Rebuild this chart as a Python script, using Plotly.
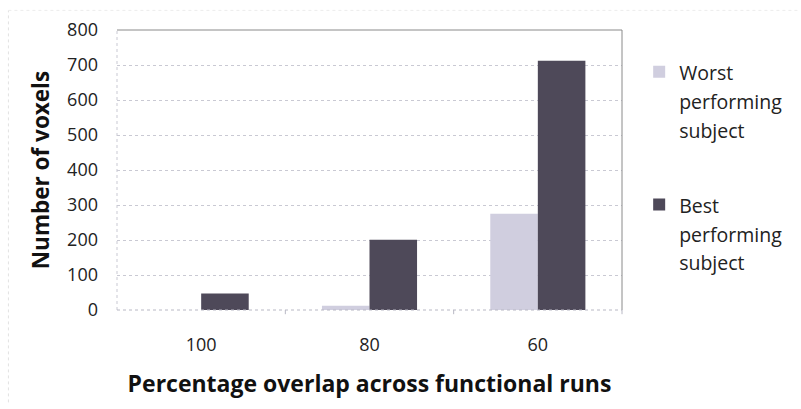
import plotly.graph_objects as go

categories = ["100", "80", "60"]
worst_values = [0, 12, 275]
best_values = [47, 201, 712]
series_names = ["Worst<br>performing<br>subject", "Best<br>performing<br>subject"]
y_ticks = [0, 100, 200, 300, 400, 500, 600, 700, 800]

FONT = "Open Sans"
LEG_SPAN = "<span style='font-size:19.5px'>{}</span>"

fig = go.Figure()
fig.add_trace(go.Bar(x=categories, y=worst_values,
                     name=LEG_SPAN.format(series_names[0]),
                     marker=dict(color="#d0cedf", line=dict(width=0)),
                     legendgroup="a"))
fig.add_trace(go.Bar(x=categories, y=best_values,
                     name=LEG_SPAN.format(series_names[1]),
                     marker=dict(color="#4e4959", line=dict(width=0)),
                     legendgroup="b"))

fig.update_layout(
    width=801, height=409,
    margin=dict(l=117, r=179, t=30, b=99),
    paper_bgcolor="white", plot_bgcolor="white",
    barmode="group", bargap=0.435, bargroupgap=0,
    font=dict(family=FONT, color="#222222"),
    showlegend=True,
    legend=dict(x=1.034, y=0.925, xanchor="left", yanchor="top",
                font=dict(size=22, color="#222222"),
                valign="top", traceorder="grouped", tracegroupgap=44,
                itemwidth=30, bgcolor="rgba(0,0,0,0)"),
    xaxis=dict(
        tickfont=dict(size=18, color="#222222"),
        ticks="", showgrid=False, showline=False, zeroline=False,
        title=dict(text="<b>Percentage overlap across functional runs</b>",
                   font=dict(size=23, color="#111111"), standoff=20),
        ticklabelstandoff=22,
    ),
    yaxis=dict(
        range=[0, 800], tickvals=y_ticks,
        tickfont=dict(size=18, color="#222222"),
        showgrid=True, gridcolor="#c9c9d3", griddash="dot", gridwidth=1,
        zeroline=False, showline=False, ticks="",
        title=dict(text="<b>Number of voxels</b>",
                   font=dict(size=22.5, color="#111111"), standoff=11),
        ticklabelstandoff=18,
    ),
)

# plot frame: top and right solid border, left and bottom dotted
fig.add_shape(type="line", xref="paper", yref="paper", x0=0, x1=1, y0=1, y1=1,
              line=dict(color="#8a8a8a", width=1))
fig.add_shape(type="line", xref="paper", yref="paper", x0=1, x1=1, y0=0, y1=1,
              line=dict(color="#8a8a8a", width=1))
fig.add_shape(type="line", xref="paper", yref="paper", x0=0, x1=0, y0=0, y1=1,
              line=dict(color="#c9c9d3", width=1, dash="dot"))
fig.add_shape(type="line", xref="paper", yref="paper", x0=0, x1=1, y0=0, y1=0,
              line=dict(color="#b8b8c4", width=1, dash="dot"))
# category separator ticks
for i in range(1, 4):
    fig.add_shape(type="line", xref="paper", yref="paper", x0=i / 3, x1=i / 3,
                  y0=0, y1=-0.015, line=dict(color="#b8b8c4", width=1))
# faint outer chart-area border
fig.add_shape(type="line", xref="paper", yref="paper", x0=-0.215, x1=-0.215,
              y0=-0.33, y1=1.07, line=dict(color="#e2e2e2", width=1, dash="dot"))
fig.add_shape(type="line", xref="paper", yref="paper", x0=-0.215, x1=1.35,
              y0=1.07, y1=1.07, line=dict(color="#ececec", width=1, dash="dot"))

fig.write_html("out.html")
